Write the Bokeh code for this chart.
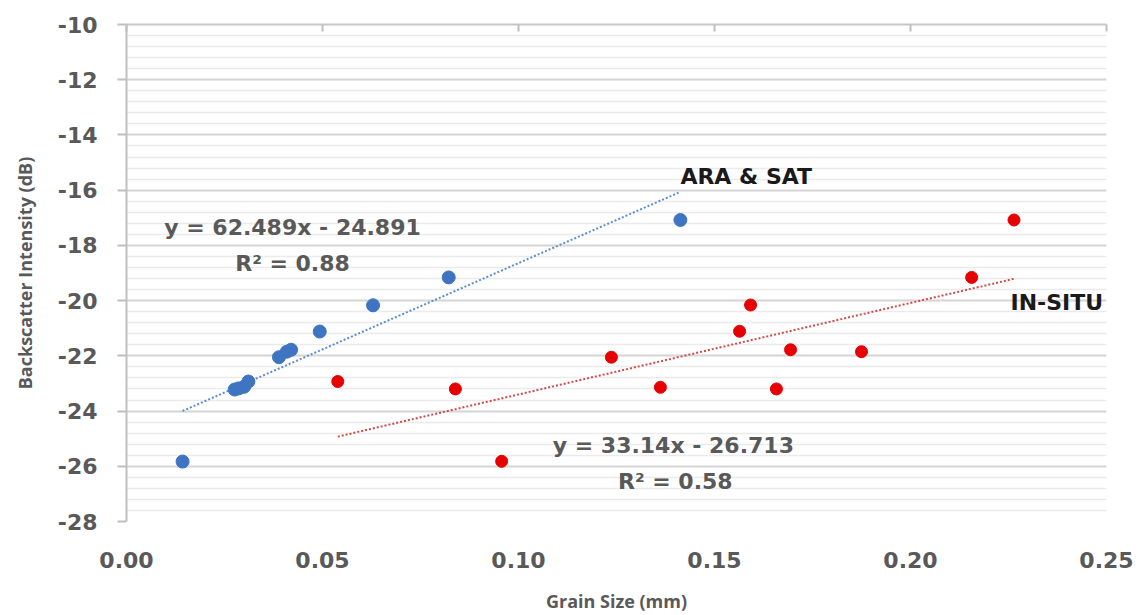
from bokeh.plotting import figure
from bokeh.models import (Range1d, FixedTicker, NumeralTickFormatter, PrintfTickFormatter,
                          LinearAxis, Label)
from bokeh.embed import file_html
from bokeh.resources import INLINE

# ---- data ----
ara_sat_x = [0.0143, 0.0276, 0.0286, 0.0300, 0.0311, 0.0389, 0.0409, 0.0420, 0.0493, 0.0629, 0.0822, 0.1413]
ara_sat_y = [-25.83, -23.22, -23.18, -23.12, -22.93, -22.05, -21.85, -21.78, -21.12, -20.17, -19.16, -17.08]

in_situ_x = [0.0539, 0.0839, 0.0957, 0.1237, 0.1362, 0.1564, 0.1592, 0.1658, 0.1694, 0.1875, 0.2156, 0.2264]
in_situ_y = [-22.93, -23.20, -25.82, -22.05, -23.14, -21.11, -20.16, -23.20, -21.78, -21.85, -19.16, -17.08]

# displayed trendline equations
ara_slope, ara_intercept, ara_r2 = 62.489, -24.891, 0.88
ins_slope, ins_intercept, ins_r2 = 33.14, -26.713, 0.58

x_ticks = [0.00, 0.05, 0.10, 0.15, 0.20, 0.25]
y_ticks = [-28, -26, -24, -22, -20, -18, -16, -14, -12, -10]
y_minor = [round(-28 + 0.4 * i, 2) for i in range(46)]

x_title = "Grain Size (mm)"
y_title = "Backscatter Intensity (dB)"

GRAY = "#595959"
TICK_FONT = "DejaVu Sans"

p = figure(width=1142, height=615, output_backend="svg", toolbar_location=None,
           x_range=Range1d(0, 0.25), y_range=Range1d(-28, -10),
           min_border_left=126, min_border_right=36, min_border_top=24, min_border_bottom=94,
           x_axis_location=None, y_axis_location=None)
p.outline_line_color = None
p.background_fill_color = "white"
p.border_fill_color = "white"

# left axis
yax = LinearAxis(ticker=FixedTicker(ticks=y_ticks, minor_ticks=y_minor),
                 formatter=PrintfTickFormatter(format="%d"))
yax.axis_line_color = "#bfbfbf"
yax.axis_line_width = 2
yax.major_tick_line_color = "#bfbfbf"
yax.major_tick_line_width = 2
yax.major_tick_out = 9
yax.major_tick_in = 0
yax.minor_tick_line_color = None
yax.major_label_standoff = 20
yax.major_label_text_font = TICK_FONT
yax.major_label_text_font_style = "bold"
yax.major_label_text_font_size = "22px"
yax.major_label_text_color = GRAY
yax.axis_label = y_title
yax.axis_label_text_font = "Open Sans"
yax.axis_label_text_font_style = "bold"
yax.axis_label_text_font_size = "18px"
yax.axis_label_text_color = GRAY
yax.axis_label_standoff = 18
p.add_layout(yax, "left")

# bottom axis: labels only
xax = LinearAxis(ticker=FixedTicker(ticks=x_ticks), formatter=NumeralTickFormatter(format="0.00"))
xax.axis_line_color = None
xax.major_tick_line_color = None
xax.minor_tick_line_color = None
xax.major_tick_out = 0
xax.major_tick_in = 0
xax.major_label_standoff = 30
xax.major_label_text_font = TICK_FONT
xax.major_label_text_font_style = "bold"
xax.major_label_text_font_size = "22px"
xax.major_label_text_color = GRAY
xax.axis_label = x_title
xax.axis_label_text_font = "Open Sans"
xax.axis_label_text_font_style = "bold"
xax.axis_label_text_font_size = "18px"
xax.axis_label_text_color = GRAY
xax.axis_label_standoff = 18
p.add_layout(xax, "below")

# top axis line (Excel axis crossing at -10) with inward ticks
tax = LinearAxis(ticker=FixedTicker(ticks=x_ticks))
tax.axis_line_color = "#c8c8c8"
tax.axis_line_width = 2
tax.major_tick_line_color = "#bfbfbf"
tax.major_tick_line_width = 2
tax.major_tick_in = 7
tax.major_tick_out = 0
tax.minor_tick_line_color = None
tax.major_label_text_font_size = "0px"
tax.major_label_text_alpha = 0
p.add_layout(tax, "above")

# grid
p.ygrid.ticker = yax.ticker
p.ygrid.grid_line_color = "#d6d6d6"
p.ygrid.grid_line_width = 2
p.ygrid.minor_grid_line_color = "#ebebeb"
p.ygrid.minor_grid_line_width = 1.5
p.xgrid.grid_line_color = None

# trendlines
ara_tx = [min(ara_sat_x), max(ara_sat_x)]
ara_ty = [ara_slope * v + ara_intercept for v in ara_tx]
ins_tx = [min(in_situ_x), max(in_situ_x)]
ins_ty = [ins_slope * v + ins_intercept for v in ins_tx]
p.line(ara_tx, ara_ty, line_color="#5b8ed0", line_width=2, line_dash="2 2")
p.line(ins_tx, ins_ty, line_color="#d04a4a", line_width=2, line_dash="2 2")

# points
p.scatter(ara_sat_x, ara_sat_y, size=13, fill_color="#3f74c2", line_color="#3f74c2")
p.scatter(in_situ_x, in_situ_y, size=12, fill_color="#e60000", line_color="#e60000")

def lab(x, y, text, color=GRAY, align="center"):
    p.add_layout(Label(x=x, y=y, text=text, text_font=TICK_FONT, text_font_style="bold",
                       text_font_size="22px", text_color=color, text_align=align,
                       text_baseline="middle"))

lab(0.04235, -17.35, f"y = {ara_slope}x - {abs(ara_intercept)}")
lab(0.04235, -18.66, f"R² = {ara_r2}")
lab(0.1395, -25.25, f"y = {ins_slope}x - {abs(ins_intercept)}")
lab(0.1400, -26.55, f"R² = {ins_r2}")
lab(0.1413, -15.5, "ARA & SAT", color="#1a1a1a", align="left")
lab(0.2255, -20.07, "IN-SITU", color="#1a1a1a", align="left")

open("out.html", "w").write(file_html(p, INLINE))
